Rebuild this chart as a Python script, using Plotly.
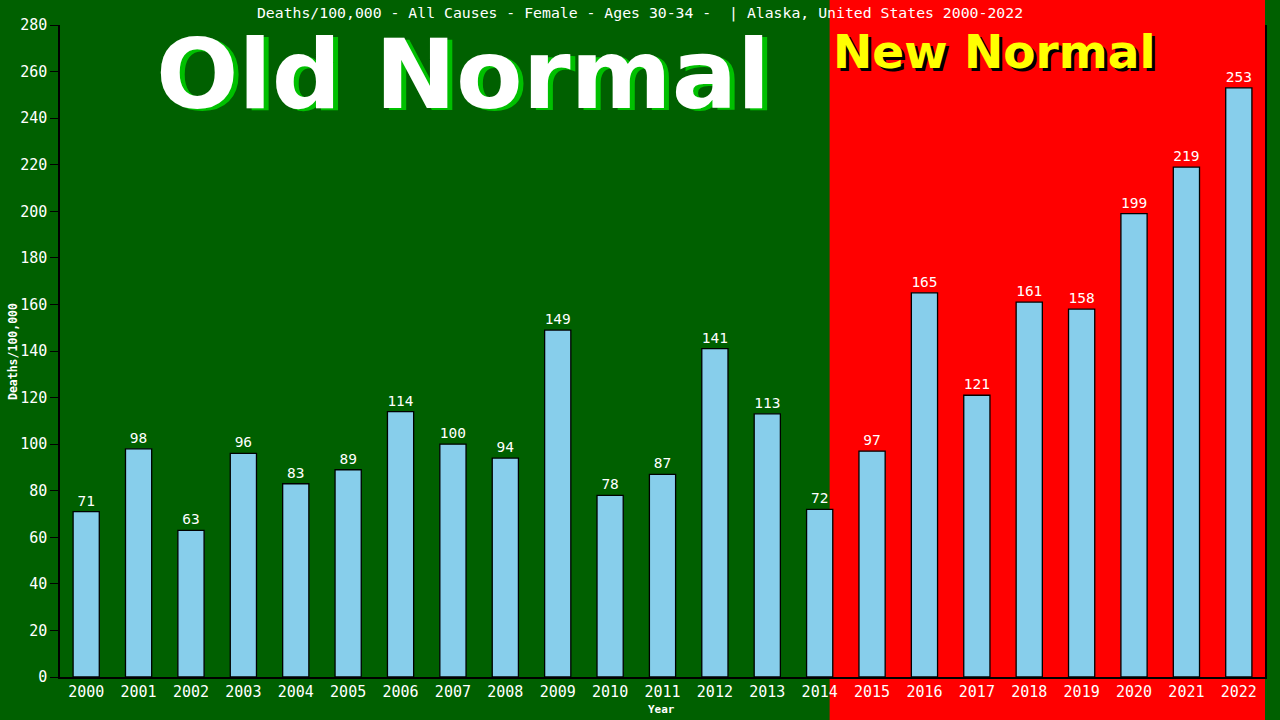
import plotly.graph_objects as go

# Deaths per 100,000, all causes, females aged 30-34, Alaska
years = list(range(2000, 2023))
deaths_per_100k = [71, 98, 63, 96, 83, 89, 114, 100, 94, 149, 78, 87, 141,
                   113, 72, 97, 165, 121, 161, 158, 199, 219, 253]
y_ticks = list(range(0, 281, 20))

title_text = "Deaths/100,000 - All Causes - Female - Ages 30-34 -  | Alaska, United States 2000-2022"

GREEN = "#006000"
RED = "#FF0000"
BAR = "#87CEEB"
MONO = "DejaVu Sans Mono"

L, R, T, B = 60, 15, 25, 43
PW, PH = 1280 - L - R, 720 - T - B


def px_x(x):
    return (x - L) / PW


def px_y(y):
    return (720 - B - y) / PH


fig = go.Figure()

fig.add_trace(go.Bar(
    x=years,
    y=deaths_per_100k,
    width=0.5,
    marker=dict(color=BAR, line=dict(color="#000000", width=1.3)),
    text=[str(v) for v in deaths_per_100k],
    textposition="outside",
    outsidetextfont=dict(color="white", family=MONO, size=14.5),
    cliponaxis=False,
    hoverinfo="x+y",
))

# Red "New Normal" zone from late 2014 onward, extending to the page edges
fig.add_shape(type="rect", xref="x", yref="paper",
              x0=2014.19, x1=2024, y0=-0.2, y1=1.2,
              fillcolor=RED, line=dict(width=0), layer="below")

# Headline labels with offset drop shadows
fig.add_annotation(text="<b>Old Normal</b>", xref="paper", yref="paper",
                   x=px_x(463 + 5), y=px_y(74 + 3),
                   showarrow=False, xanchor="center", yanchor="middle",
                   font=dict(family="DejaVu Sans", size=97, color="#00C000"))
fig.add_annotation(text="<b>Old Normal</b>", xref="paper", yref="paper",
                   x=px_x(463), y=px_y(74),
                   showarrow=False, xanchor="center", yanchor="middle",
                   font=dict(family="DejaVu Sans", size=97, color="white"))
fig.add_annotation(text="<b>New Normal</b>", xref="paper", yref="paper",
                   x=px_x(994 + 3), y=px_y(52 + 3),
                   showarrow=False, xanchor="center", yanchor="middle",
                   font=dict(family="DejaVu Sans", size=47, color="black"))
fig.add_annotation(text="<b>New Normal</b>", xref="paper", yref="paper",
                   x=px_x(994), y=px_y(52),
                   showarrow=False, xanchor="center", yanchor="middle",
                   font=dict(family="DejaVu Sans", size=47, color="#FFFF00"))

# Axis titles placed directly in page pixels
fig.add_annotation(text="<b>Year</b>", xref="paper", yref="paper",
                   x=px_x(661), y=px_y(709), showarrow=False,
                   xanchor="center", yanchor="middle",
                   font=dict(family=MONO, size=11, color="white"))
fig.add_annotation(text="<b>Deaths/100,000</b>", xref="paper", yref="paper",
                   x=px_x(13), y=px_y(352), showarrow=False, textangle=-90,
                   xanchor="center", yanchor="middle",
                   font=dict(family=MONO, size=11.5, color="white"))

fig.update_layout(
    width=1280, height=720,
    margin=dict(l=L, r=R, t=T, b=B),
    paper_bgcolor=GREEN,
    plot_bgcolor="rgba(0,0,0,0)",
    showlegend=False,
    title=dict(text=title_text, x=0.5, xanchor="center", y=1 - 13 / 720,
               yanchor="middle", font=dict(family=MONO, size=14.8, color="white")),
    xaxis=dict(
        range=[1999.5, 2022.5], tickmode="array", tickvals=years,
        ticktext=[str(y) for y in years], showgrid=False, zeroline=False,
        showline=True, linecolor="black", linewidth=1.5, ticks="",
        tickfont=dict(family=MONO, size=15, color="white"),
        automargin=False,
    ),
    yaxis=dict(
        range=[0, 280], tickmode="array", tickvals=y_ticks, showgrid=False,
        zeroline=False, showline=True, mirror=True, linecolor="black",
        linewidth=1.5, ticks="outside", ticklen=8, tickcolor="black",
        tickfont=dict(family=MONO, size=15, color="white"),
        automargin=False,
    ),
)

fig.write_html("out.html")
